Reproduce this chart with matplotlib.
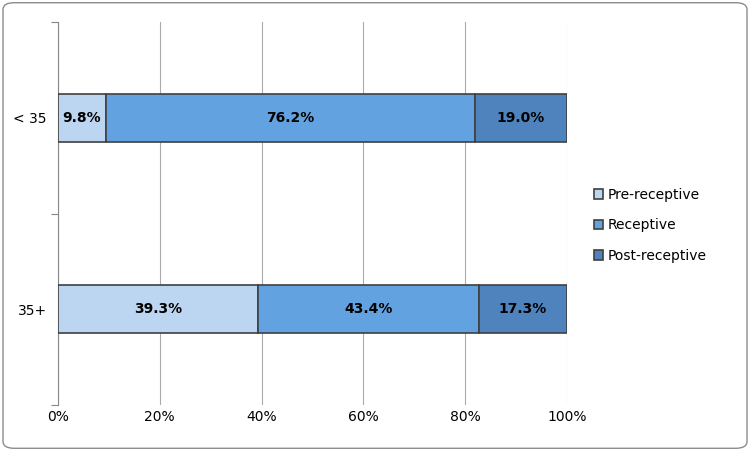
import numpy as np
import matplotlib.pyplot as plt
from matplotlib.patches import FancyBboxPatch

groups = ["35+", "< 35"]
series = ["Pre-receptive", "Receptive", "Post-receptive"]
values = {
    "Pre-receptive": [39.3, 9.8],
    "Receptive": [43.4, 76.2],
    "Post-receptive": [17.3, 19.0],
}
colors = ["#bcd5f0", "#63a2e0", "#4f83bd"]

fig = plt.figure(figsize=(7.5, 4.51), dpi=100)
fig.patches.append(FancyBboxPatch((0.004, 0.006), 0.992, 0.988, boxstyle="round,pad=0,rounding_size=0.015",
                                  transform=fig.transFigure, fill=False, edgecolor="#8c8c8c", linewidth=1))
ax = fig.add_axes([58 / 750, 1 - 405 / 451, (567 - 58) / 750, (405 - 22) / 451])

totals = np.sum([values[s] for s in series], axis=0)
y = np.arange(len(groups))
left = np.zeros(len(groups))
for s, c in zip(series, colors):
    frac = np.array(values[s]) / totals
    ax.barh(y, frac, left=left, height=0.25, color=c, edgecolor="#404040", linewidth=1.2, label=s, zorder=3)
    for yi, l, f, v in zip(y, left, frac, values[s]):
        ax.text(l + f / 2, yi, f"{v:.1f}%", ha="center", va="center", fontsize=10, fontweight="bold", zorder=4)
    left += frac

ax.set_xlim(0, 1)
ax.set_ylim(-0.5, 1.5)
ax.set_xticks(np.linspace(0, 1, 6))
ax.set_xticklabels([f"{int(v)}%" for v in np.linspace(0, 100, 6)], fontsize=10)
ax.set_yticks([-0.5, 0.5, 1.5], minor=False)
ax.set_yticklabels([])
ax.set_yticks(y, minor=True)
ax.set_yticklabels(groups, minor=True, fontsize=10)
ax.tick_params(axis="y", which="minor", length=0, pad=8)
ax.tick_params(axis="y", which="major", length=5, color="#888888")
ax.tick_params(axis="x", length=0)
ax.grid(axis="x", color="#aaaaaa", linewidth=0.8, zorder=0)
for side in ["top", "right", "bottom"]:
    ax.spines[side].set_visible(False)
ax.spines["left"].set_color("#888888")

fig.legend(loc="center left", bbox_to_anchor=(0.775, 0.5), frameon=False, fontsize=10,
           handlelength=0.7, handleheight=0.7, labelspacing=1.2, handletextpad=0.3)
fig.savefig("out.png", dpi=100)
